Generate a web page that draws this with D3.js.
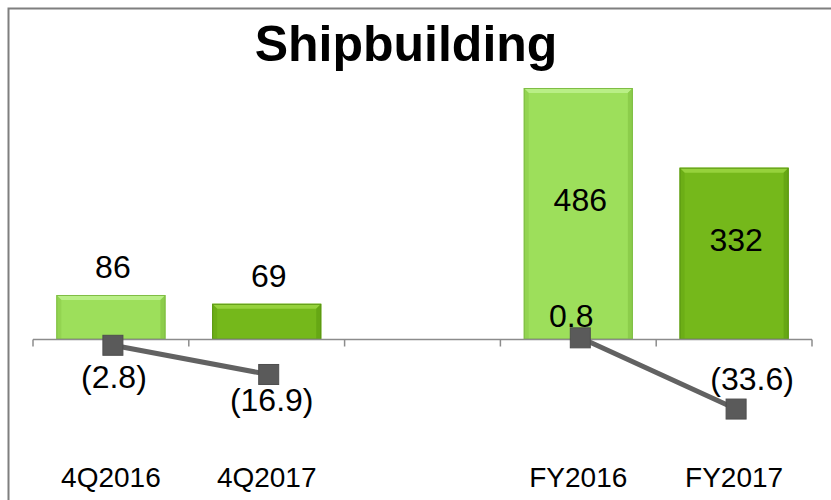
<!DOCTYPE html>
<html>
<head>
<meta charset="utf-8">
<script src="https://cdn.jsdelivr.net/npm/d3@7"></script>
<style>
  html, body { margin: 0; padding: 0; background: #fff; }
  svg { display: block; font-family: "Liberation Sans", Arial, sans-serif; }
</style>
</head>
<body>
<div id="chart"></div>
<script>
// Data
const categories = ['4Q2016', '4Q2017', '', 'FY2016', 'FY2017'];
const revenue = [86, 69, null, 486, 332];          // bars, left axis
const operatingProfit = [-2.8, -16.9, null, 0.8, -33.6]; // line, right axis

const width = 831;
const height = 500;

// label nudges for the line values (style only)
const lineLabelDy = [43, 37, 0, -11, -19];
const lineLabelDx = [3, 5, 0, -7, 18];

const svg = d3.select('#chart')
    .append('svg')
    .attr('width', width)
    .attr('height', height);

// frame (runs off the right and bottom edge)
svg.append('path')
    .attr('d', `M8.5,${height + 5} V8.5 H${width + 5}`)
    .attr('fill', 'none')
    .attr('stroke', '#7f7f7f')
    .attr('stroke-width', 2);

// Title
svg.append('text')
    .attr('x', 406)
    .attr('y', 61)
    .attr('text-anchor', 'middle')
    .style('font-size', '50px')
    .style('font-weight', 'bold')
    .text('Shipbuilding');

// Scales
const x = d3.scaleBand()
    .domain(d3.range(categories.length))
    .range([33, 812])
    .paddingInner(0.3)
    .paddingOuter(0.15);

const step = x.step();

const y = d3.scaleLinear()
    .domain([-200, 600])
    .range([443, 29]);

const y2 = d3.scaleLinear()
    .domain([-50, 150])
    .range([443, 29]);

const colour = d3.scaleOrdinal()
    .domain(['2016', '2017'])
    .range([
        { face: '#9ddf5b', top: '#b9ef86', side: '#8ccd4b', edge: '#7fbd45' },
        { face: '#75b81b', top: '#96d23c', side: '#66a714', edge: '#5a9612' }
    ]);

const barData = categories.map((c, i) => ({ c, i, v: revenue[i] }))
    .filter(d => d.v != null);

// Bars with a bevel look
const bars = svg.append('g').selectAll('g')
    .data(barData)
    .enter().append('g');

bars.each(function (d) {
    const g = d3.select(this);
    const col = colour(d.c.slice(-4));
    const x0 = x(d.i), x1 = x(d.i) + x.bandwidth();
    const y0 = y(d.v), y1 = y(0);
    const b = 5;
    g.append('rect')
        .attr('x', x0).attr('y', y0)
        .attr('width', x1 - x0).attr('height', y1 - y0)
        .attr('fill', col.face);
    // top bevel
    g.append('path')
        .attr('d', `M${x0},${y0} H${x1} L${x1 - b},${y0 + b} H${x0 + b} Z`)
        .attr('fill', col.top);
    // side bevels
    g.append('path')
        .attr('d', `M${x0},${y0} L${x0 + b},${y0 + b} V${y1} H${x0} Z`)
        .attr('fill', col.side).attr('opacity', 0.6);
    g.append('path')
        .attr('d', `M${x1},${y0} L${x1 - b},${y0 + b} V${y1} H${x1} Z`)
        .attr('fill', col.side);
    g.append('rect')
        .attr('x', x0 + 0.5).attr('y', y0 + 0.5)
        .attr('width', x1 - x0 - 1).attr('height', y1 - y0 - 1)
        .attr('fill', 'none')
        .attr('stroke', col.edge)
        .attr('stroke-width', 1);
});

// Axis at zero
const axisG = svg.append('g')
    .attr('transform', `translate(0,${y(0)})`);

axisG.append('line')
    .attr('x1', 33).attr('x2', 812)
    .attr('stroke', '#8c8c8c')
    .attr('stroke-width', 1.5);

axisG.selectAll('.tick')
    .data(d3.range(categories.length + 1))
    .enter().append('line')
    .attr('x1', i => 33 + i * step)
    .attr('x2', i => 33 + i * step)
    .attr('y1', 0).attr('y2', 7)
    .attr('stroke', '#8c8c8c')
    .attr('stroke-width', 1.5);

// Category labels
svg.append('g').selectAll('text')
    .data(categories)
    .enter().append('text')
    .attr('x', (d, i) => x(i) + x.bandwidth() / 2)
    .attr('y', 487)
    .attr('text-anchor', 'middle')
    .style('font-size', '28px')
    .text(d => d);

// Bar value labels: small bars above, tall bars inside
svg.append('g').selectAll('text')
    .data(barData)
    .enter().append('text')
    .attr('x', d => x(d.i) + x.bandwidth() / 2 + 2)
    .attr('y', d => d.v > 200 ? (y(d.v) + y(0)) / 2 - 3 : y(d.v) - 17)
    .attr('text-anchor', 'middle')
    .style('font-size', '32px')
    .text(d => d3.format('d')(d.v));

// Line (secondary axis)
const lineData = categories.map((c, i) => ({ i, v: operatingProfit[i] }));

const line = d3.line()
    .defined(d => d.v != null)
    .x(d => x(d.i) + x.bandwidth() / 2 + 2)
    .y(d => y2(d.v));

svg.append('path')
    .datum(lineData)
    .attr('fill', 'none')
    .attr('stroke', '#626262')
    .attr('stroke-width', 5)
    .attr('d', line);

const pts = lineData.filter(d => d.v != null);

svg.append('g').selectAll('rect')
    .data(pts)
    .enter().append('rect')
    .attr('x', d => x(d.i) + x.bandwidth() / 2 + 2 - 10)
    .attr('y', d => y2(d.v) - 10)
    .attr('width', 20)
    .attr('height', 20)
    .attr('fill', '#5a5a5a')
    .attr('stroke', '#4e4e4e')
    .attr('stroke-width', 1);

const fmt = v => v < 0 ? `(${d3.format('.1f')(-v)})` : d3.format('.1f')(v);

svg.append('g').selectAll('text')
    .data(pts)
    .enter().append('text')
    .attr('x', d => x(d.i) + x.bandwidth() / 2 + lineLabelDx[d.i])
    .attr('y', d => y2(d.v) + lineLabelDy[d.i])
    .attr('text-anchor', 'middle')
    .style('font-size', '32px')
    .text(d => fmt(d.v));
</script>
</body>
</html>
